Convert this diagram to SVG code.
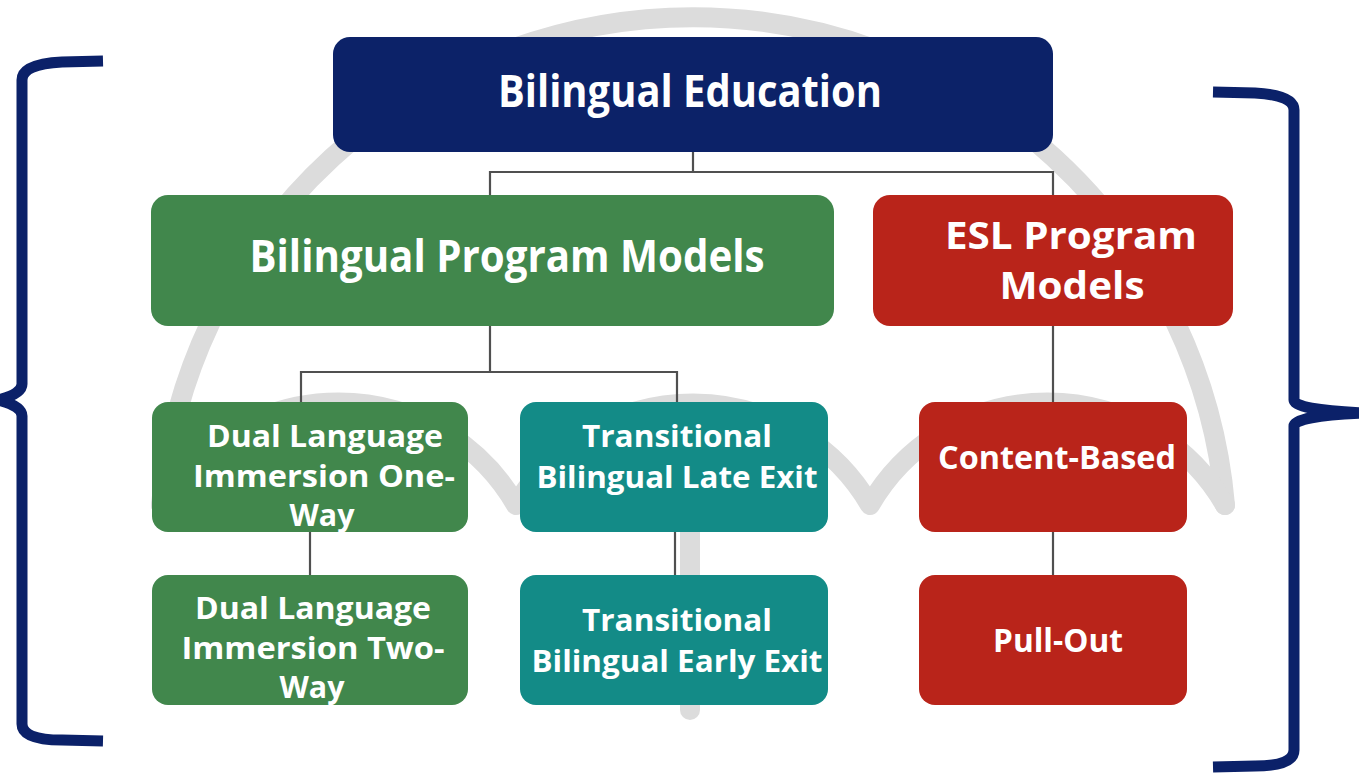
<svg xmlns="http://www.w3.org/2000/svg" width="1359" height="774" viewBox="0 0 1359 774">
  <style>
    .bg { fill: none; stroke: #dcdcdc; stroke-width: 20; stroke-linecap: round; stroke-linejoin: round; }
    .conn { fill: none; stroke: #505050; stroke-width: 2.2; }
    .brace { fill: none; stroke: #0b2169; stroke-width: 11; stroke-linejoin: round; }
    .t { font-family: "Open Sans", "Noto Sans", "Liberation Sans", sans-serif; font-weight: 700; fill: #ffffff; text-anchor: middle; }
    .big { font-size: 45px; }
    .mid { font-size: 44px; }
    .mid2 { font-size: 38px; }
    .sm { font-size: 33px; }
    .xs { font-size: 31px; }
    .navy { fill: #0c2268; }
    .green { fill: #41874c; }
    .teal { fill: #138b87; }
    .red { fill: #b9241a; }
  </style>
  <rect width="1359" height="774" fill="#ffffff"/>

  <g id="background-logo">
    <path class="bg" d="M161,505 A534,534 0 0 1 1225,505"/>
    <path class="bg" d="M161,505 A205,205 0 0 1 516,505 A205,205 0 0 1 870,505 A205,205 0 0 1 1225,505"/>
    <line class="bg" x1="690" y1="440" x2="690" y2="710" stroke-width="24"/>
  </g>

  <g id="brace-left">
    <path class="brace" d="M103,61 L62,62 Q22,64 22,80 L22,384 Q22,394 -2,400 Q22,406 22,416 L22,724 Q22,740 62,740 L103,741"/>
  </g>
  <g id="brace-right">
    <path class="brace" d="M1213,92 L1255,93 Q1294,95 1294,110 L1294,400 Q1294,410 1365,413 Q1294,416 1294,426 L1294,750 Q1294,766 1255,766 L1213,767"/>
  </g>

  <g id="connectors">
    <path class="conn" d="M693,152 L693,172 M490,195 L490,172 L1053,172 L1053,195"/>
    <path class="conn" d="M490,326 L490,372 M301,402 L301,372 L677,372 L677,402"/>
    <path class="conn" d="M1053,326 L1053,402"/>
    <path class="conn" d="M310,532 L310,575"/>
    <path class="conn" d="M675,532 L675,575"/>
    <path class="conn" d="M1053,532 L1053,575"/>
  </g>

  <g id="node-bilingual-education">
    <rect class="navy" x="333" y="37" width="720" height="115" rx="17"/>
    <text class="t big" x="690" y="107" textLength="384" lengthAdjust="spacingAndGlyphs">Bilingual Education</text>
  </g>

  <g id="node-bilingual-program-models">
    <rect class="green" x="151" y="195" width="683" height="131" rx="17"/>
    <text class="t mid" x="507" y="272" textLength="515" lengthAdjust="spacingAndGlyphs">Bilingual Program Models</text>
  </g>

  <g id="node-esl-program-models">
    <rect class="red" x="873" y="195" width="360" height="131" rx="17"/>
    <text class="t mid2" x="1071" y="249" textLength="252" lengthAdjust="spacingAndGlyphs">ESL Program</text>
    <text class="t mid2" x="1072" y="299" textLength="145" lengthAdjust="spacingAndGlyphs">Models</text>
  </g>

  <g id="node-dual-one-way">
    <rect class="green" x="152" y="402" width="316" height="130" rx="16"/>
    <text class="t xs" x="325" y="447" textLength="236" lengthAdjust="spacingAndGlyphs">Dual Language</text>
    <text class="t xs" x="324" y="487" textLength="262" lengthAdjust="spacingAndGlyphs">Immersion One-</text>
    <text class="t xs" x="322" y="526" textLength="65" lengthAdjust="spacingAndGlyphs">Way</text>
  </g>

  <g id="node-transitional-late-exit">
    <rect class="teal" x="520" y="402" width="308" height="130" rx="16"/>
    <text class="t xs" x="677" y="447" textLength="190" lengthAdjust="spacingAndGlyphs">Transitional</text>
    <text class="t xs" x="677" y="488" textLength="281" lengthAdjust="spacingAndGlyphs">Bilingual Late Exit</text>
  </g>

  <g id="node-content-based">
    <rect class="red" x="919" y="402" width="268" height="130" rx="16"/>
    <text class="t sm" x="1057" y="469" textLength="238" lengthAdjust="spacingAndGlyphs">Content-Based</text>
  </g>

  <g id="node-dual-two-way">
    <rect class="green" x="152" y="575" width="316" height="130" rx="16"/>
    <text class="t xs" x="313" y="619" textLength="236" lengthAdjust="spacingAndGlyphs">Dual Language</text>
    <text class="t xs" x="313" y="659" textLength="263" lengthAdjust="spacingAndGlyphs">Immersion Two-</text>
    <text class="t xs" x="312" y="698" textLength="65" lengthAdjust="spacingAndGlyphs">Way</text>
  </g>

  <g id="node-transitional-early-exit">
    <rect class="teal" x="520" y="575" width="308" height="130" rx="16"/>
    <text class="t xs" x="677" y="631" textLength="190" lengthAdjust="spacingAndGlyphs">Transitional</text>
    <text class="t xs" x="677" y="672" textLength="291" lengthAdjust="spacingAndGlyphs">Bilingual Early Exit</text>
  </g>

  <g id="node-pull-out">
    <rect class="red" x="919" y="575" width="268" height="130" rx="16"/>
    <text class="t sm" x="1058" y="652" textLength="130" lengthAdjust="spacingAndGlyphs">Pull-Out</text>
  </g>
</svg>
